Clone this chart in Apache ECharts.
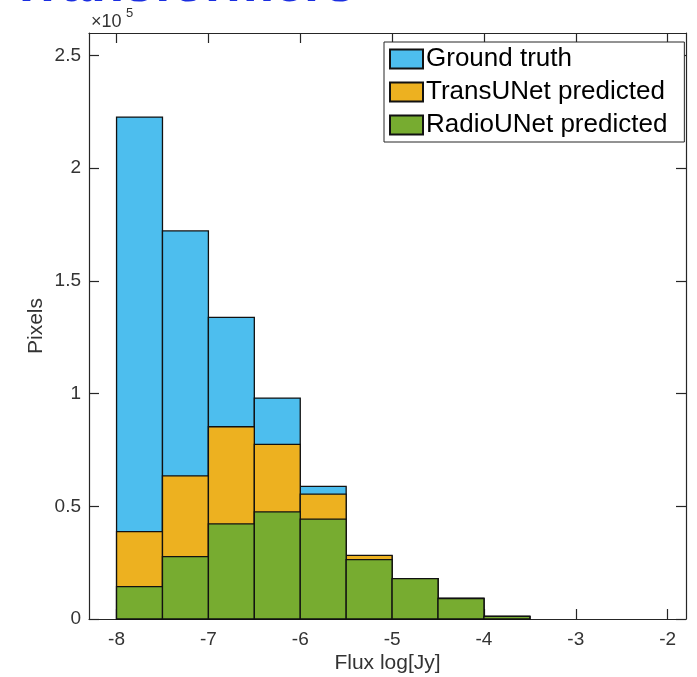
<!DOCTYPE html>
<html>
<head>
<meta charset="utf-8">
<script src="https://cdn.jsdelivr.net/npm/echarts@6/dist/echarts.min.js"></script>
<style>
	html, body { margin: 0; padding: 0; background: #fff; }
	#chart { width: 697px; height: 677px; }
</style>
</head>
<body>
<div id="chart"></div>
<script>
// histogram bins (left edges, log10 Jy), width 0.5
const binStart = [-8, -7.5, -7, -6.5, -6, -5.5, -5, -4.5, -4]
const binWidth = 0.5

// pixel counts per bin
const groundTruth = [222700, 172200, 133800, 98000, 58800, 28000, 17900, 9100, 1200]
const transUNet = [38800, 63500, 85300, 77500, 55400, 28200, 17900, 9100, 1200]
const radioUNet = [14400, 27700, 42200, 47500, 44300, 26300, 17900, 9100, 1150]

const xTicks = [-8, -7, -6, -5, -4, -3, -2]
const yTicks = [0, 50000, 100000, 150000, 200000, 250000]

const font = 'Liberation Sans'
const axisColor = '#262626'

const seriesList = [
	{ name: 'Ground truth', values: groundTruth, color: '#4DBEEE' },
	{ name: 'TransUNet predicted', values: transUNet, color: '#EDB120' },
	{ name: 'RadioUNet predicted', values: radioUNet, color: '#77AC30' }
]

function makeSeries(s) {
	return {
		type: 'custom',
		name: s.name,
		itemStyle: { color: s.color, borderColor: '#111', borderWidth: 1 },
		encode: { x: 0, y: 1 },
		data: binStart.map((b, i) => [b, s.values[i]]),
		renderItem: function (params, api) {
			const x0 = api.value(0)
			const v = api.value(1)
			const p0 = api.coord([x0, 0])
			const p1 = api.coord([x0 + binWidth, v])
			return {
				type: 'rect',
				shape: { x: p0[0], y: p1[1], width: p1[0] - p0[0], height: p0[1] - p1[1] },
				style: { fill: s.color, stroke: '#111', lineWidth: 1.3 }
			}
		}
	}
}

function xAxis(pos, main) {
	return {
		type: 'value',
		position: pos,
		min: -8.3,
		max: -1.8,
		splitLine: { show: false },
		axisLine: { show: true, onZero: false, lineStyle: { color: axisColor, width: 1.2 } },
		axisTick: { show: true, inside: true, length: 10, customValues: xTicks, lineStyle: { color: axisColor, width: 1.2 } },
		axisLabel: {
			show: main,
			customValues: xTicks,
			color: '#333',
			fontFamily: font,
			fontSize: 19,
			margin: 11
		},
		name: main ? 'Flux log[Jy]' : '',
		nameLocation: 'middle',
		nameGap: 34,
		nameMoveOverlap: false,
		nameTextStyle: { color: '#333', fontFamily: font, fontSize: 21 }
	}
}

function yAxis(pos, main) {
	return {
		type: 'value',
		position: pos,
		min: 0,
		max: 260000,
		splitLine: { show: false },
		axisLine: { show: true, onZero: false, lineStyle: { color: axisColor, width: 1.2 } },
		axisTick: { show: true, inside: true, length: 10, customValues: yTicks, lineStyle: { color: axisColor, width: 1.2 } },
		axisLabel: {
			show: main,
			customValues: yTicks,
			formatter: v => String(v / 100000),
			color: '#333',
			fontFamily: font,
			fontSize: 19,
			margin: 8
		},
		name: main ? 'Pixels' : '',
		nameLocation: 'middle',
		nameGap: 42,
		nameMoveOverlap: false,
		nameTextStyle: { color: '#333', fontFamily: font, fontSize: 21 }
	}
}

const chart = echarts.init(document.getElementById('chart'))

chart.setOption({
	backgroundColor: '#fff',
	animation: false,
	grid: { left: 89, right: 11, top: 33, bottom: 58, containLabel: false, outerBoundsMode: 'none' },
	xAxis: [xAxis('bottom', true), xAxis('top', false)],
	yAxis: [yAxis('left', true), yAxis('right', false)],
	legend: {
		orient: 'vertical',
		left: 384,
		top: 42,
		padding: [4, 17, 4, 5],
		itemGap: 7,
		itemWidth: 33,
		itemHeight: 19,
		icon: 'rect',
		backgroundColor: '#fff',
		borderColor: axisColor,
		borderWidth: 1,
		borderRadius: 0,
		textStyle: { color: '#000', fontFamily: font, fontSize: 26, padding: [0, 0, 0, -2] },
		data: seriesList.map(s => s.name)
	},
	graphic: [
		{
			type: 'text',
			left: 10,
			top: -41,
			style: { text: 'Transformers', font: 'bold 54px "Liberation Sans"', fill: '#1a2ee0' }
		},
		{
			type: 'text',
			left: 91,
			top: 13,
			style: { text: '×10', font: '18px "Liberation Sans"', fill: '#333' }
		},
		{
			type: 'text',
			left: 126,
			top: 7,
			style: { text: '5', font: '13px "Liberation Sans"', fill: '#333' }
		}
	],
	series: seriesList.map(makeSeries)
})
</script>
</body>
</html>
